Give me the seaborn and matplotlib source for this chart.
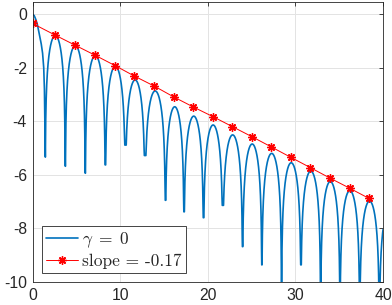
import matplotlib.pyplot as plt
import numpy as np
import pandas as pd
import seaborn as sns

# first half lobe, from x=0 down to the first dip
first_x = [0, 0.2, 0.4, 0.57, 0.84, 1.0, 1.15, 1.28, 1.36]
first_y = [0, -0.06, -0.22, -0.41, -0.85, -1.12, -1.46, -2.0, -2.8]

# dips of the blue curve: position and how deep the line goes (-11 = off the axes)
dip_x = [1.45, 3.74, 6.02, 8.31, 10.59, 12.83, 15.17, 17.29, 19.51, 21.71,
         23.97, 26.17, 28.42, 30.63, 32.88, 35.09, 37.34, 39.58, 41.8]
dip_y = [-5.34, -5.68, -5.94, -5.63, -4.89, -5.28, -6.95, -7.38, -7.6, -7.14,
         -8.68, -9.36, -11, -9.36, -11, -11, -11, -11, -11]
# top of each lobe between two dips
peak_y = [-0.8, -1.18, -1.55, -1.95, -2.46, -2.87, -3.46, -3.81, -4.14, -4.51,
          -4.85, -5.2, -5.55, -5.86, -6.25, -6.59, -6.98, -7.32]

# red fitted line with markers
slope_x = [0, 2.55, 4.85, 7.1, 9.4, 11.6, 13.9, 16.1, 18.3, 20.6, 22.8, 25.0,
           27.2, 29.5, 31.7, 34.0, 36.2, 38.4]
slope_y = [-0.35, -0.78, -1.16, -1.53, -1.92, -2.31, -2.69, -3.09, -3.46, -3.83,
           -4.2, -4.57, -4.95, -5.35, -5.73, -6.13, -6.5, -6.88]

sns.set_style('white')
plt.rcParams['font.family'] = ['Liberation Sans', 'DejaVu Sans']
plt.rcParams['axes.unicode_minus'] = False
plt.rcParams['mathtext.fontset'] = 'cm'

# blue curve: lobes between the dips
xs, ys = list(first_x), list(first_y)
for i in range(len(peak_y)):
    a, b = dip_x[i], dip_x[i + 1]
    xs.append(a)
    ys.append(dip_y[i])
    t = np.linspace(0, 1, 600)[1:-1]
    y = peak_y[i] + 2.9 * np.log10(np.sin(np.pi * t))
    y = np.maximum(y, np.where(t < 0.5, dip_y[i], dip_y[i + 1]))
    xs.extend(a + t * (b - a))
    ys.extend(y)
df = pd.DataFrame({'x': xs, 'y': ys})

fig = plt.figure(figsize=(3.92, 3.05), dpi=100)
ax = fig.add_axes([32.5 / 392, 1 - 282 / 305, 350.5 / 392, 280 / 305])

sns.lineplot(data=df, x='x', y='y', estimator=None, sort=False,
             color='#0072BD', lw=1.2, label=r'$\gamma \;=\; 0$', ax=ax)
sns.lineplot(x=slope_x, y=slope_y, estimator=None, sort=False, color='red',
             lw=0.7, marker=(8, 2, 0), markersize=6, mec='red', mew=1,
             label='slope = -0.17', ax=ax)

ax.set_xlim(0, 40)
ax.set_ylim(-10, 0.45)
ax.set_xticks([0, 10, 20, 30, 40])
ax.set_yticks([-10, -8, -6, -4, -2, 0])
ax.set_xlabel('')
ax.set_ylabel('')
ax.grid(True, color='#e3e3e3', lw=0.7)
ax.tick_params(direction='in', length=3, width=0.6, colors='#262626',
               labelsize=11.3, top=True, right=True, pad=4)
for s in ax.spines.values():
    s.set_visible(True)
    s.set_color('#262626')
    s.set_linewidth(0.6)

leg = ax.legend(loc='lower left', bbox_to_anchor=(0.027, 0.032), borderaxespad=0,
                frameon=True, fancybox=False, edgecolor='#262626', framealpha=1,
                prop={'family': 'cmr10', 'size': 12.5}, handlelength=1.85,
                handletextpad=0.2, borderpad=0.25, labelspacing=0.2)
leg.get_frame().set_linewidth(0.6)

fig.savefig('out.png', dpi=100)
